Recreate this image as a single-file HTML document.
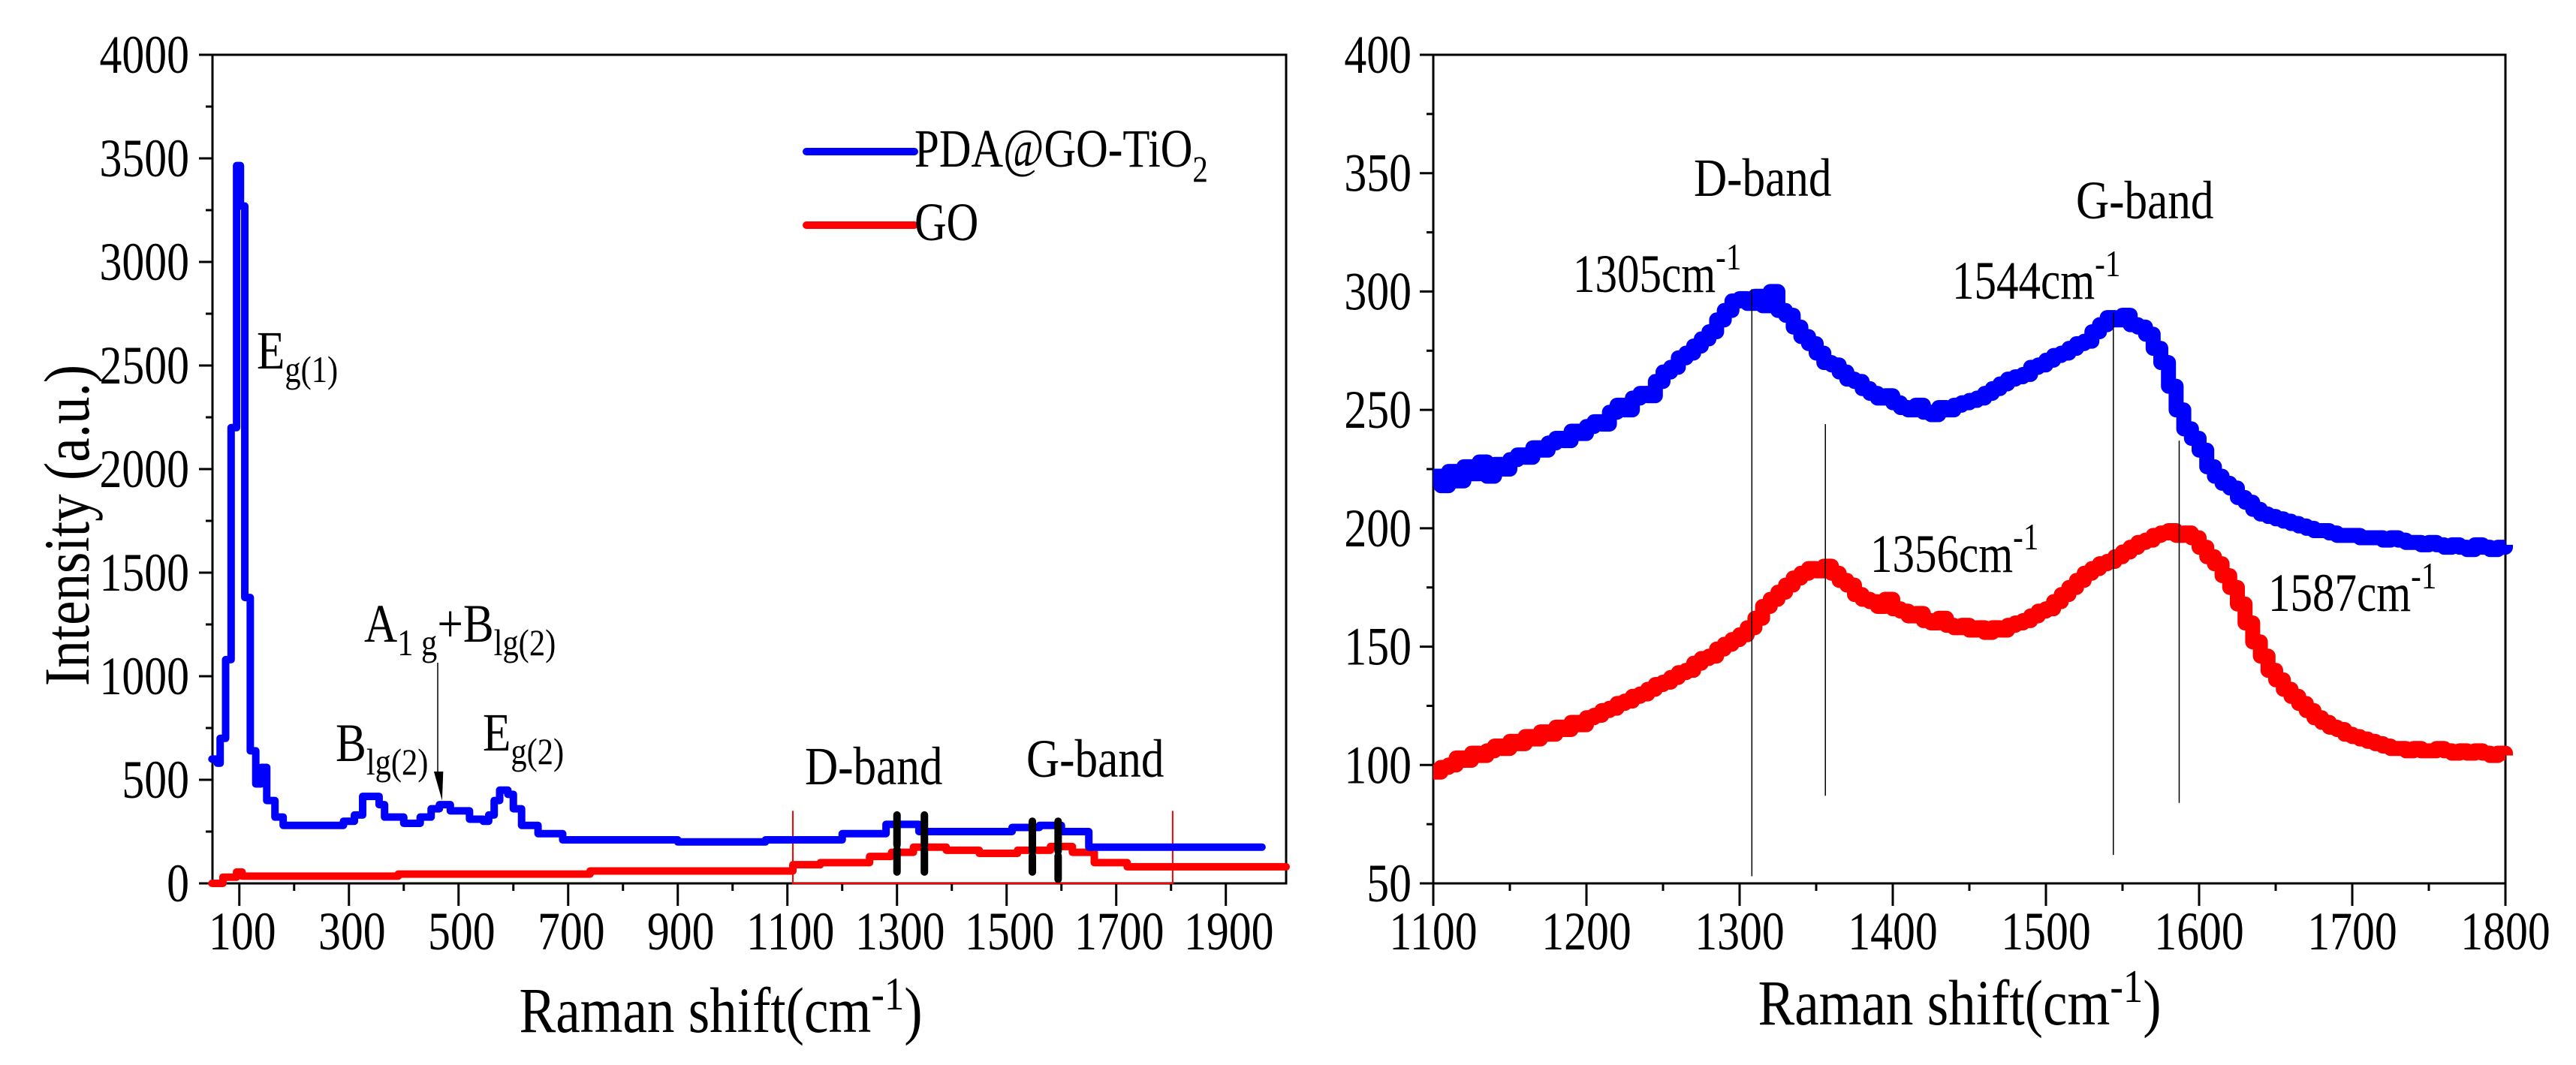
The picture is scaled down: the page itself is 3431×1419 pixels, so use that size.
<!DOCTYPE html>
<html><head><meta charset="utf-8"><style>
html,body{margin:0;padding:0;background:#fff;}
svg{display:block;font-family:"Liberation Serif","DejaVu Serif",serif;}
</style></head><body>
<svg id="chart" width="3431" height="1419" viewBox="0 0 3431 1419" xmlns="http://www.w3.org/2000/svg"></svg>
<script>
// ---- Left panel data (step spectra) ----
const leftBlueX = [50,60,65,75,85,95,102,110,120,130,140,150,165,180,290,310,325,355,365,400,430,450,465,485,520,545,555,565,575,590,600,615,645,690,900,1060,1200,1280,1340,1510,1560,1600,1650,1966];
const leftBlueY = [600,580,700,1080,2200,3465,3270,1380,640,480,560,400,320,280,300,330,420,380,320,290,320,360,380,350,310,300,330,400,450,430,360,280,240,210,200,210,240,285,250,270,280,250,175,175];
const leftRedX = [50,70,95,105,390,740,1110,1160,1250,1290,1330,1390,1450,1520,1580,1620,1660,1720,2010];
const leftRedY = [0,30,55,35,45,60,90,100,130,150,175,160,145,160,178,150,100,80,80];
const markerX = [1300,1350,1547,1594];
const leftXTicks = [100,300,500,700,900,1100,1300,1500,1700,1900];
const leftYTicks = [0,500,1000,1500,2000,2500,3000,3500,4000];
// ---- Right panel data (5 cm-1 steps from 1100 to 1800) ----
const rightX0 = 1100, rightStep = 5;
const rightBlue = [222,218,224,220,226,223,228,222,227,225,229,231,230,234,233,236,238,237,241,240,243,245,244,249,252,250,255,257,256,262,266,268,272,274,277,280,283,288,292,296,297,295,298,294,300,292,290,285,281,278,274,270,269,266,263,262,259,257,255,256,253,251,250,252,249,248,251,250,252,253,254,255,257,259,261,263,264,265,268,269,271,273,274,276,278,279,283,286,289,288,290,286,285,282,276,270,260,250,242,238,233,226,222,219,217,213,211,208,206,205,204,203,202,201,200,199,199,198,197,197,197,196,196,196,195,196,195,194,194,193,194,193,192,193,192,191,193,192,191,192,193];
const rightRed = [97,99,100,103,102,105,104,106,108,107,110,109,112,111,114,113,116,115,118,117,120,121,123,124,126,127,129,130,132,134,135,137,139,140,143,145,146,149,151,153,155,158,162,167,170,173,176,179,181,183,182,184,181,178,176,172,170,169,167,170,166,165,163,164,161,160,162,159,158,159,157,158,156,158,157,159,160,161,163,165,166,169,172,175,178,181,183,185,186,188,190,192,194,195,197,198,199,197,198,196,192,188,185,180,175,168,160,152,146,140,136,132,129,126,123,120,118,116,115,113,112,111,110,109,108,107,107,106,107,106,106,107,106,105,106,105,106,105,104,105,104];
const rightXTicks = [1100,1200,1300,1400,1500,1600,1700,1800];
const rightYTicks = [50,100,150,200,250,300,350,400];
const peakLines = [[1308,301,53],[1356,244,87],[1544,291,62],[1587,237,84]];

const NS = "http://www.w3.org/2000/svg";
const svg = document.getElementById('chart');
function mk(tag, attrs, parent){const e=document.createElementNS(NS,tag);for(const k in attrs)e.setAttribute(k,attrs[k]);(parent||svg).appendChild(e);return e;}
function txt(x,y,parts,size,anchor,sx,parent){
  const g=mk('g',{transform:`translate(${x},${y}) scale(${sx},1)`},parent);
  const t=mk('text',{x:0,y:0,'font-size':size,'text-anchor':anchor||'start',fill:'#000'},g);
  if(typeof parts==='string'){t.textContent=parts;}
  else{let cur=0;parts.forEach(p=>{const s=mk('tspan',{},t);s.textContent=p[0];const dy=p[1]-cur;if(dy)s.setAttribute('dy',dy);cur=p[1];if(p[2])s.setAttribute('font-size',p[2]);});}
  return g;
}
const L={x0:283,x1:1713,y0:1177,y1:73,xmin:51,xmax:2010,ymin:0,ymax:4000};
const lx=v=>L.x0+(v-L.xmin)*(L.x1-L.x0)/(L.xmax-L.xmin);
const ly=v=>L.y0-(v-L.ymin)*(L.y0-L.y1)/(L.ymax-L.ymin);
const R={x0:1909,x1:3337,y0:1177,y1:73,xmin:1100,xmax:1800,ymin:50,ymax:400};
const rx=v=>R.x0+(v-R.xmin)*(R.x1-R.x0)/(R.xmax-R.xmin);
const ry=v=>R.y0-(v-R.ymin)*(R.y0-R.y1)/(R.ymax-R.ymin);

// ---------- LEFT PANEL ----------
const lp=mk('g',{});


const lframe=mk('rect',{x:L.x0,y:L.y1,width:L.x1-L.x0,height:L.y0-L.y1,fill:'none',stroke:'#000','stroke-width':3},lp);


for(let v=100;v<=1900;v+=100){const maj=leftXTicks.includes(v);const t=mk('line',{x1:lx(v),x2:lx(v),y1:L.y0,y2:L.y0+(maj?30:10),stroke:'#000','stroke-width':3},lp);}
for(let v=0;v<=4000;v+=250){const maj=v%500===0;const t=mk('line',{x1:L.x0-(maj?18:9),x2:L.x0,y1:ly(v),y2:ly(v),stroke:'#000','stroke-width':3},lp);}
leftXTicks.forEach(v=>{const g=txt(lx(v)+4,1265,String(v),72,'middle',0.83,lp);});
leftYTicks.forEach(v=>{const g=txt(252,ly(v)+24,String(v),72,'end',0.83,lp);});
const rb=mk('path',{d:`M${lx(1110)},${ly(350)} V${L.y0} H${lx(1803)} V${ly(350)}`,fill:'none',stroke:'#f00','stroke-width':2},lp);


function stepPath(xs,ys){let d=`M${lx(xs[0])},${ly(ys[0])}`;for(let i=1;i<xs.length;i++){d+=` H${lx(xs[i])} V${ly(ys[i])}`;}return d;}
const lred=mk('path',{d:stepPath(leftRedX,leftRedY),fill:'none',stroke:'#f00','stroke-width':10,'stroke-linejoin':'round','stroke-linecap':'round'},lp);


const lblue=mk('path',{d:stepPath(leftBlueX,leftBlueY),fill:'none',stroke:'#00f','stroke-width':10,'stroke-linejoin':'round','stroke-linecap':'round'},lp);


markerX.forEach((v,i)=>{const top=i<2?330:300;const bot=i<3?55:20;
  const m=mk('line',{x1:lx(v),x2:lx(v),y1:ly(top),y2:ly(bot),stroke:'#000','stroke-width':10,'stroke-linecap':'round','stroke-dasharray':'40 6 200'},lp);
  
  });
const al=mk('line',{x1:lx(462),x2:lx(462),y1:ly(1065),y2:ly(520),stroke:'#000','stroke-width':1.5},lp);


const ah=mk('path',{d:`M${lx(455)},${ly(540)} L${lx(472)},${ly(540)} L${lx(470)},${ly(400)} Z`,fill:'#000'},lp);


let a;
a=txt(342,491,[['E',0],['g(1)',18,50]],72,'start',0.85,lp);
a=txt(485,855,[['A',0],['1 g',18,50],['+B',0,72],['lg(2)',18,50]],72,'start',0.85,lp);
a=txt(447,1014,[['B',0],['lg(2)',18,50]],72,'start',0.85,lp);
a=txt(643,1000,[['E',0],['g(2)',18,50]],72,'start',0.85,lp);
a=txt(1072,1045,'D-band',72,'start',0.85,lp);
a=txt(1367,1035,'G-band',72,'start',0.85,lp);
const lg=mk('g',{},lp);


let le=mk('line',{x1:1074,x2:1218,y1:202,y2:202,stroke:'#00f','stroke-width':10,'stroke-linecap':'round'},lg);

a=txt(1218,222,[['PDA@GO-TiO',0],['2',20,50]],72,'start',0.82,lg);
le=mk('line',{x1:1074,x2:1218,y1:300,y2:300,stroke:'#f00','stroke-width':10,'stroke-linecap':'round'},lg);

a=txt(1218,320,'GO',72,'start',0.82,lg);
a=txt(960,1375,[['Raman shift(cm',0],['-1',-30,62],[')',0,86]],86,'middle',0.85,lp);
const yt=mk('g',{transform:'translate(118,700) rotate(-90)'},lp);


txt(0,0,'Intensity (a.u.)',86,'middle',0.85,yt);

// ---------- RIGHT PANEL ----------
const rp=mk('g',{});


const rframe=mk('rect',{x:R.x0,y:R.y1,width:R.x1-R.x0,height:R.y0-R.y1,fill:'none',stroke:'#000','stroke-width':3},rp);


for(let v=1100;v<=1800;v+=50){const maj=v%100===0;const t=mk('line',{x1:rx(v),x2:rx(v),y1:R.y0,y2:R.y0+(maj?30:10),stroke:'#000','stroke-width':3},rp);}
for(let v=50;v<=400;v+=25){const maj=v%50===0;const t=mk('line',{x1:R.x0-(maj?18:9),x2:R.x0,y1:ry(v),y2:ry(v),stroke:'#000','stroke-width':3},rp);}
rightXTicks.forEach(v=>{const g=txt(rx(v),1265,String(v),72,'middle',0.83,rp);});
rightYTicks.forEach(v=>{const g=txt(1880,ry(v)+24,String(v),72,'end',0.83,rp);});
function rStep(vals){let d='';vals.forEach((v,i)=>{const x=rx(rightX0+i*rightStep);d+= i===0?`M${x},${ry(v)}`:` H${x} V${ry(v)}`;});d+=` H${rx(rightX0+(vals.length-1)*rightStep)}`;return d;}
const rb2=mk('path',{d:rStep(rightBlue),fill:'none',stroke:'#00f','stroke-width':20,'stroke-linejoin':'round'},rp);


const rr2=mk('path',{d:rStep(rightRed),fill:'none',stroke:'#f00','stroke-width':20,'stroke-linejoin':'round'},rp);


peakLines.forEach(p=>{const l=mk('line',{x1:rx(p[0]),x2:rx(p[0]),y1:ry(p[1]),y2:ry(p[2]),stroke:'#000','stroke-width':1.5},rp);
  
  });
a=txt(2256,261,'D-band',72,'start',0.85,rp);
a=txt(2765,291,'G-band',72,'start',0.85,rp);
a=txt(2095,389,[['1305cm',0],['-1',-30,50]],72,'start',0.82,rp);
a=txt(2600,398,[['1544cm',0],['-1',-30,50]],72,'start',0.82,rp);
a=txt(2491,762,[['1356cm',0],['-1',-30,50]],72,'start',0.82,rp);
a=txt(3021,814,[['1587cm',0],['-1',-30,50]],72,'start',0.82,rp);
a=txt(2610,1365,[['Raman shift(cm',0],['-1',-30,62],[')',0,86]],86,'middle',0.85,rp);
</script>
</body></html>
